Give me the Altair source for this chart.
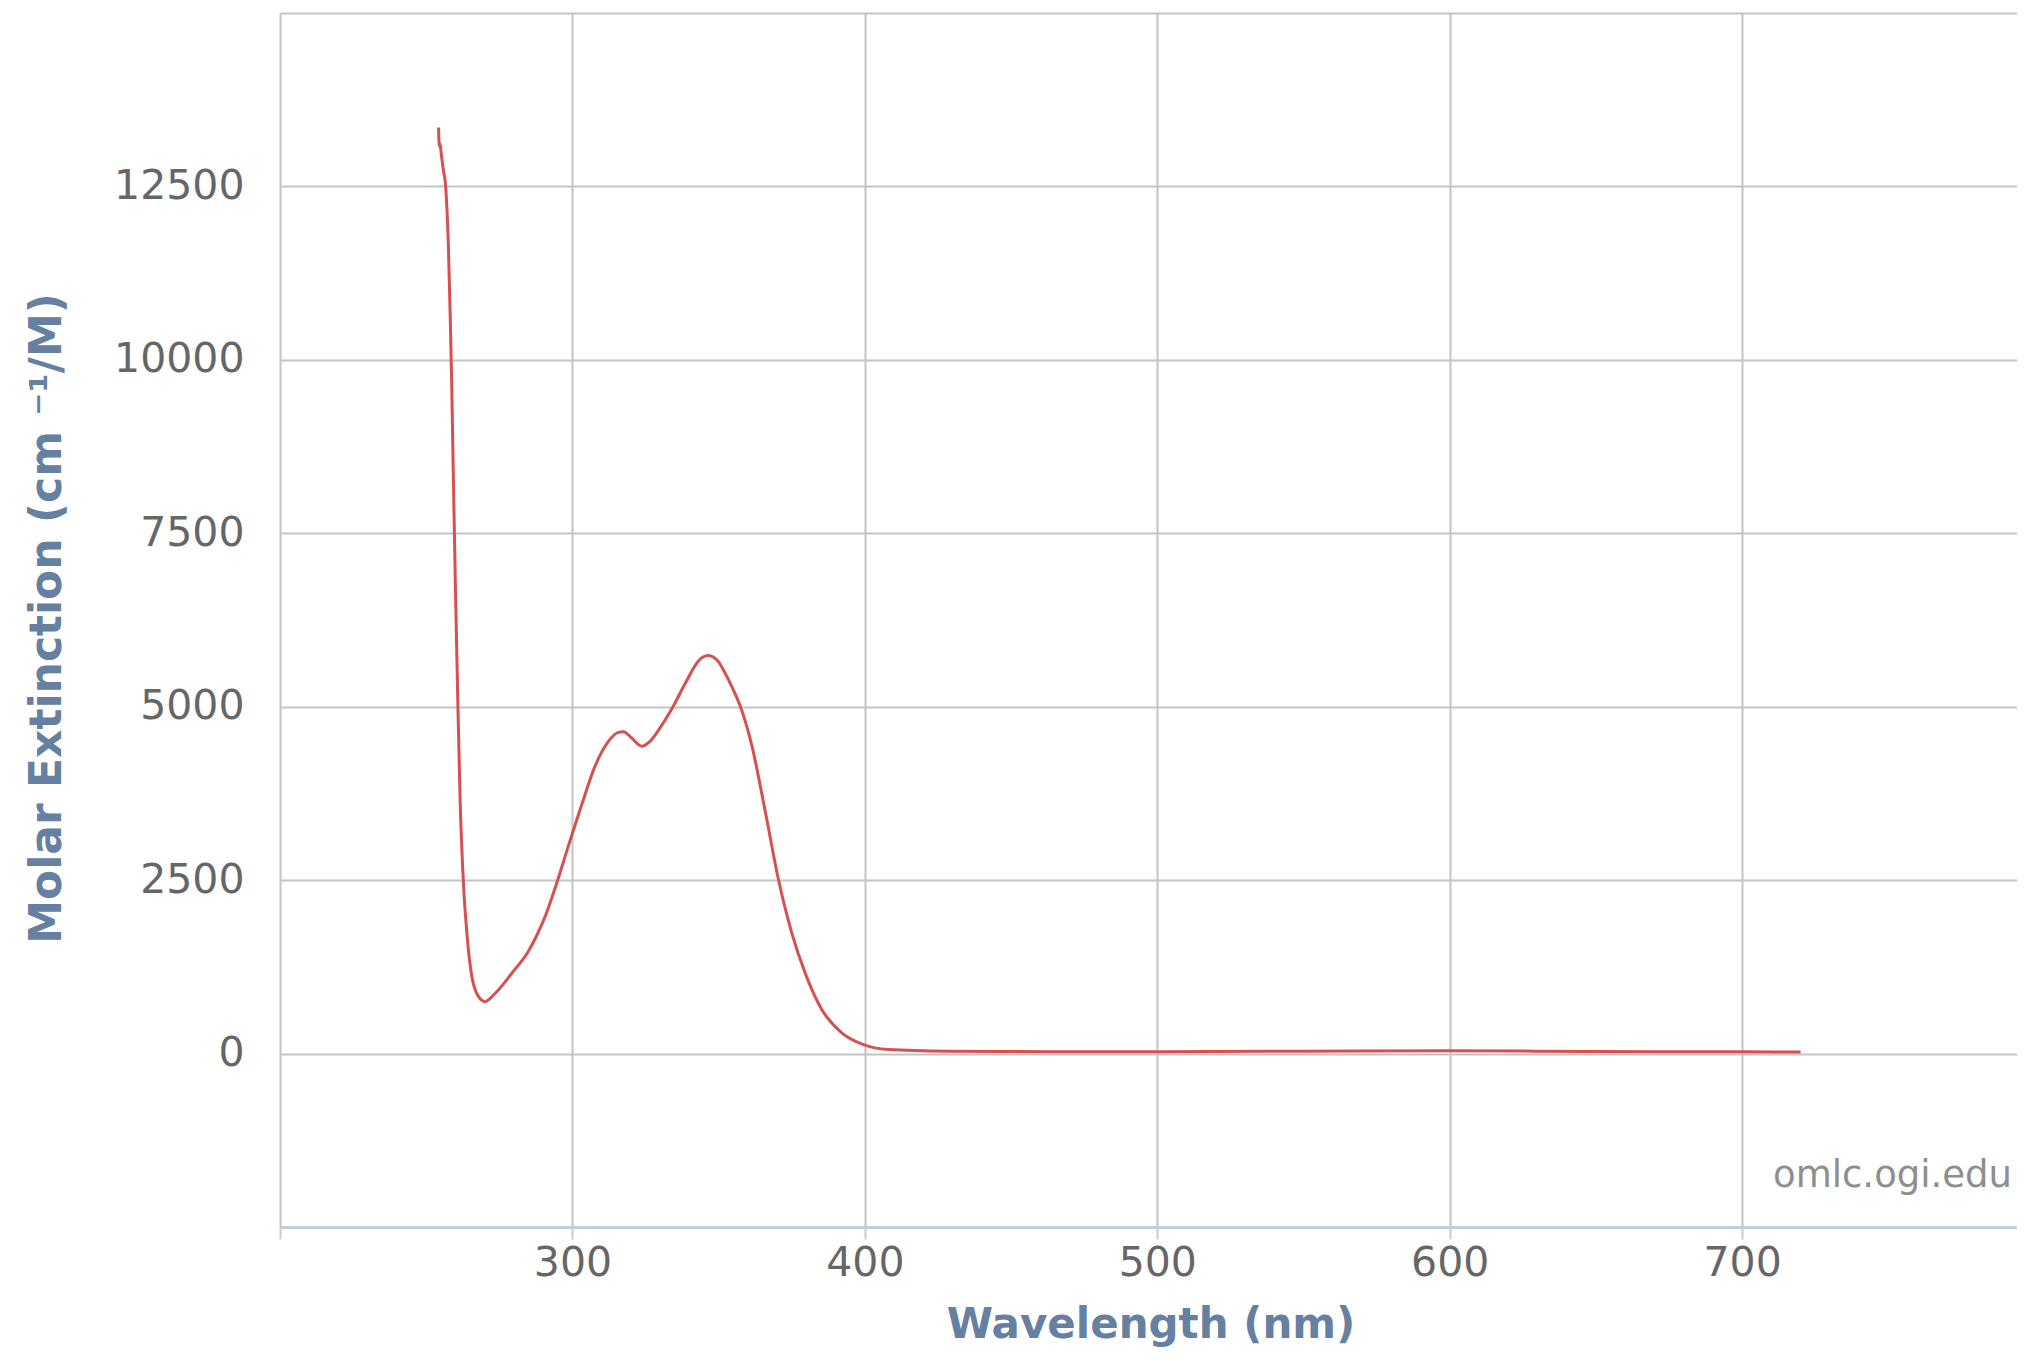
import altair as alt
import pandas as pd

# Spectrum (nm, cm^-1/M)
wavelength = [254.2, 254.5, 254.7, 255.2, 256.0, 256.5, 257.6, 258.2, 258.7, 259.3,
              260.0, 260.8, 261.6, 262.7, 263.9, 265.6, 267.9, 270.1, 273.6, 279.3,
              285.0, 288.0, 290.7, 294.1, 298.6, 303.2, 307.8, 312.3, 315.7, 317.5,
              320.0, 323.7, 326.5, 329.4, 334.0, 338.5, 343.1, 344.8, 346.5, 348.0,
              349.9, 352.0, 354.5, 357.9, 361.3, 365.9, 370.4, 375.0, 379.6, 385.2,
              392.1, 399.5, 408.0, 428.5, 450.0, 500.0, 550.0, 600.0, 650.0, 700.0,
              720.0]
extinction = [13350, 13080, 13120, 12950, 12700, 12570, 11610, 10650, 9700, 8260,
              6700, 5090, 3650, 2480, 1740, 1110, 820, 750, 870, 1160,
              1480, 1720, 1980, 2390, 2990, 3590, 4150, 4500, 4630, 4640,
              4560, 4430, 4500, 4660, 4970, 5330, 5660, 5720, 5740, 5720,
              5650, 5500, 5290, 4950, 4450, 3500, 2520, 1740, 1160, 640,
              300, 130, 60, 35, 30, 25, 35, 40, 30, 25,
              22]

x_ticks = [200, 300, 400, 500, 600, 700]
y_ticks = [-2500, 0, 2500, 5000, 7500, 10000, 12500, 15000]

df = pd.DataFrame({"wavelength": wavelength, "extinction": extinction})

GRID = "#c4c4c4"
TITLE_COLOR = "#6580a0"
LABEL_COLOR = "#666666"
FONT = "DejaVu Sans"

W, H = 1737, 1214

line = alt.Chart(df).mark_line(
    color="#d65052", strokeWidth=3, interpolate="monotone", clip=True
).encode(
    x=alt.X(
        "wavelength:Q",
        scale=alt.Scale(domain=[200, 794], nice=False, zero=False),
        axis=alt.Axis(
            values=x_ticks,
            labelExpr="datum.value == 200 ? '' : datum.label",
            grid=True, gridColor=GRID, gridWidth=2,
            domainColor="#c0cfdf", domainWidth=3,
            tickColor="#c4ccd6", tickWidth=2, tickSize=12,
            labelFont=FONT, labelFontSize=41, labelColor=LABEL_COLOR,
            labelPadding=4,
            title="Wavelength (nm)", titleFont=FONT, titleFontSize=42,
            titleFontWeight="bold", titleColor=TITLE_COLOR,
            titleBaseline="alphabetic", titleY=110, titleX=W / 2 + 2,
            titleAlign="center",
        ),
    ),
    y=alt.Y(
        "extinction:Q",
        scale=alt.Scale(domain=[-2500, 15000], nice=False, zero=False),
        axis=alt.Axis(
            values=y_ticks,
            labelExpr="(datum.value < 0 || datum.value > 12500) ? '' : datum.label",
            format="d",
            grid=True, gridColor=GRID, gridWidth=2,
            domain=False, ticks=False, tickSize=0,
            labelFont=FONT, labelFontSize=41, labelColor=LABEL_COLOR,
            labelPadding=36,
            title="Molar Extinction (cm ⁻¹/M)", titleFont=FONT, titleFontSize=44,
            titleFontWeight="bold", titleColor=TITLE_COLOR,
            titleAngle=270, titleBaseline="alphabetic", titleAlign="center",
            titleX=-220, titleY=605,
        ),
    ),
)

credit = alt.Chart(pd.DataFrame({"t": ["omlc.ogi.edu"]})).mark_text(
    align="right", baseline="alphabetic", font=FONT, fontSize=37, color="#8e8e8e"
).encode(
    x=alt.value(1732), y=alt.value(1174), text="t:N"
)

chart = alt.layer(line, credit).properties(
    width=W, height=H,
    autosize=alt.AutoSizeParams(type="none"),
    padding={"left": 272, "top": 5, "right": 0, "bottom": 124},
    background="white",
).configure_view(stroke=None)

chart.save("out.html", embed_options={"renderer": "svg", "actions": False})
